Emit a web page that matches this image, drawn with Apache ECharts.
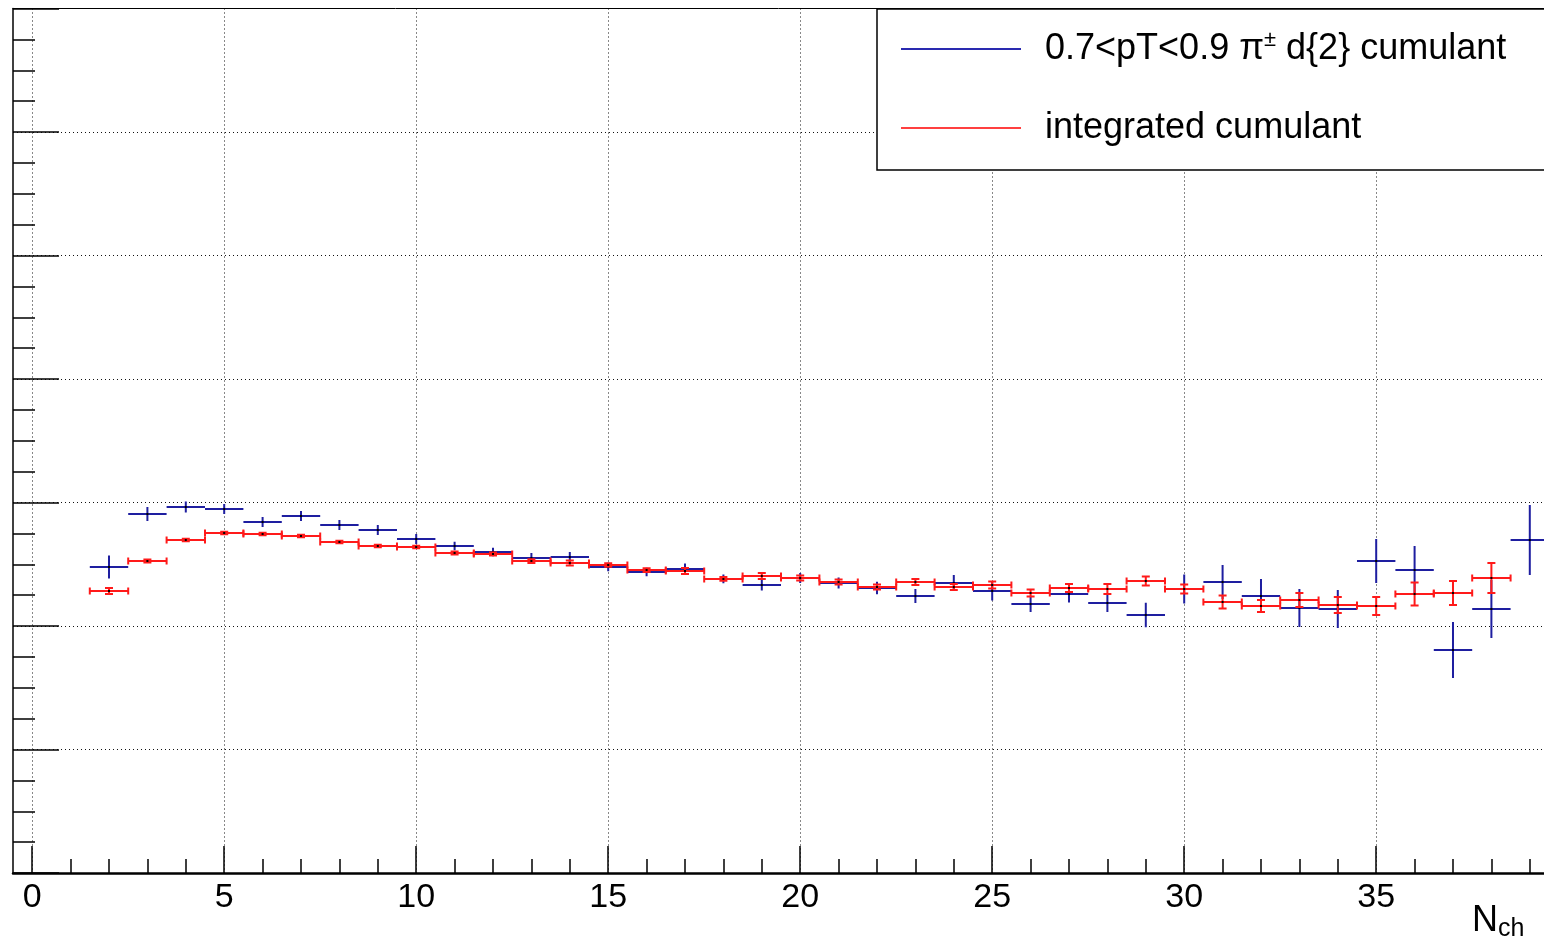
<!DOCTYPE html>
<html>
<head>
<meta charset="utf-8">
<script src="https://cdn.jsdelivr.net/npm/echarts@6/dist/echarts.min.js"></script>
<style>
html,body{margin:0;padding:0;background:#fff;}
#chart{width:1544px;height:942px;}
</style>
</head>
<body>
<div id="chart"></div>
<script>
// Bin centres (N_ch)
const blueX = [2,3,4,5,6,7,8,9,10,11,12,13,14,15,16,17,18,19,20,21,22,23,24,25,26,27,28,29,30,31,32,33,34,35,36,37,38,39];
const blueY = [2.478,2.907,2.964,2.947,2.842,2.891,2.818,2.777,2.704,2.648,2.599,2.551,2.559,2.478,2.437,2.462,2.381,2.332,2.389,2.348,2.308,2.243,2.348,2.283,2.178,2.259,2.186,2.089,2.300,2.356,2.243,2.146,2.138,2.526,2.453,1.806,2.138,2.696];
const blueErr = [0.093,0.057,0.045,0.040,0.040,0.040,0.040,0.040,0.040,0.035,0.035,0.040,0.040,0.035,0.035,0.045,0.035,0.045,0.040,0.045,0.050,0.057,0.065,0.077,0.065,0.069,0.073,0.100,0.117,0.138,0.138,0.154,0.154,0.178,0.194,0.227,0.235,0.283];

const redX = [2,3,4,5,6,7,8,9,10,11,12,13,14,15,16,17,18,19,20,21,22,23,24,25,26,27,28,29,30,31,32,33,34,35,36,37,38];
const redY = [2.283,2.526,2.696,2.753,2.745,2.729,2.680,2.648,2.640,2.591,2.583,2.526,2.510,2.494,2.453,2.445,2.381,2.405,2.389,2.356,2.316,2.356,2.316,2.332,2.267,2.308,2.300,2.364,2.300,2.194,2.162,2.211,2.170,2.162,2.259,2.267,2.389];
const redErr = [0.024,0.012,0.010,0.010,0.010,0.010,0.010,0.010,0.010,0.012,0.012,0.015,0.020,0.015,0.015,0.024,0.015,0.024,0.020,0.020,0.020,0.024,0.024,0.028,0.028,0.032,0.040,0.036,0.036,0.053,0.049,0.057,0.065,0.073,0.093,0.097,0.121];

const xMajorTicks = [0,5,10,15,20,25,30,35];
const xMinorTicks = [0,1,2,3,4,5,6,7,8,9,10,11,12,13,14,15,16,17,18,19,20,21,22,23,24,25,26,27,28,29,30,31,32,33,34,35,36,37,38,39];

const blueName = '0.7<pT<0.9 π± d{2} cumulant';
const redName = 'integrated cumulant';
const BLUE = '#1e1ea0';
const RED = '#ff1a1a';
const FONT = 'Liberation Sans';
const X_MIN = -0.5, X_MAX = 39.37; // visible window (frame cropped at right)

function zip(xs, ys, es){ return xs.map((x,i)=>[x, ys[i], es[i]]); }

function makeRender(color, caps){
  return function(params, api){
    const x = api.value(0), y = api.value(1), e = api.value(2);
    const l = api.coord([x-0.5, y]);
    const r = api.coord([x+0.5, y]);
    const t = api.coord([x, y+e]);
    const b = api.coord([x, y-e]);
    const st = {stroke: color, lineWidth: 2};
    const ch = [
      {type:'line', shape:{x1:l[0], y1:l[1], x2:r[0], y2:r[1]}, style:st},
      {type:'line', shape:{x1:t[0], y1:t[1], x2:b[0], y2:b[1]}, style:st}
    ];
    if (caps){
      const cw = 4;
      ch.push({type:'line', shape:{x1:t[0]-cw, y1:t[1], x2:t[0]+cw, y2:t[1]}, style:st});
      ch.push({type:'line', shape:{x1:b[0]-cw, y1:b[1], x2:b[0]+cw, y2:b[1]}, style:st});
      ch.push({type:'line', shape:{x1:l[0], y1:l[1]-3.5, x2:l[0], y2:l[1]+3.5}, style:st});
      ch.push({type:'line', shape:{x1:r[0], y1:r[1]-3.5, x2:r[0], y2:r[1]+3.5}, style:st});
    }
    ch.push({type:'rect', shape:{x:t[0]-1, y:l[1]-1, width:2, height:2}, style:{fill:'#000'}});
    return {type:'group', children: ch};
  };
}

const chart = echarts.init(document.getElementById('chart'), null, {renderer:'canvas'});
const gridBox = {left:13, right:0, top:8.5, bottom:69, containLabel:false};
const dotted = {color:'#111', width:1, type:[1,3]};

chart.setOption({
  animation:false,
  backgroundColor:'#fff',
  textStyle:{fontFamily:FONT},
  grid:[Object.assign({}, gridBox), Object.assign({}, gridBox)],
  xAxis:[
    {
      type:'value', gridIndex:0, min:X_MIN, max:X_MAX, position:'bottom',
      axisLine:{show:true, onZero:false, lineStyle:{color:'#000', width:2.5}},
      axisTick:{show:true, inside:true, length:27, customValues:xMajorTicks, lineStyle:{color:'#000', width:1.5}},
      axisLabel:{show:true, customValues:xMajorTicks, fontSize:34, color:'#000', fontFamily:FONT, margin:8},
      splitLine:{show:true, lineStyle:dotted},
      name:'{n|N}{s|ch}', nameLocation:'end', nameGap:-72,
      nameTextStyle:{align:'left', verticalAlign:'top', padding:[28,0,0,0],
        rich:{n:{fontSize:36, fontFamily:FONT, color:'#000'}, s:{fontSize:25, fontFamily:FONT, color:'#000', padding:[16,0,0,0]}}}
    },
    {
      type:'value', gridIndex:1, min:X_MIN, max:X_MAX, position:'bottom',
      axisLine:{show:false},
      axisTick:{show:true, inside:true, length:14, customValues:xMinorTicks, lineStyle:{color:'#000', width:1.5}},
      axisLabel:{show:false},
      splitLine:{show:false}
    },
    {
      type:'value', gridIndex:0, min:X_MIN, max:X_MAX, position:'top',
      axisLine:{show:true, onZero:false, lineStyle:{color:'#000', width:1}},
      axisTick:{show:false}, axisLabel:{show:false}, splitLine:{show:false}
    }
  ],
  yAxis:[
    {
      type:'value', gridIndex:0, min:0, max:7, interval:1, position:'left',
      axisLine:{show:true, onZero:false, lineStyle:{color:'#000', width:1.5}},
      axisTick:{show:true, inside:true, length:46, lineStyle:{color:'#000', width:1.5}},
      minorTick:{show:true, splitNumber:4, length:22, lineStyle:{color:'#000', width:1.5}},
      axisLabel:{show:false},
      splitLine:{show:true, lineStyle:dotted}
    },
    {type:'value', gridIndex:1, min:0, max:7, show:false}
  ],
  legend:{
    show:true, orient:'vertical', left:877, top:9,
    padding:[20,70,22,24], itemGap:39, itemWidth:120, itemHeight:2,
    borderColor:'#000', borderWidth:1.5, backgroundColor:'#fff',
    selectedMode:false,
    textStyle:{fontSize:36, fontFamily:FONT, color:'#000', lineHeight:40, padding:[0,0,0,19]},
    data:[
      {name:blueName, icon:'rect', itemStyle:{color:'#2a2ab0'}},
      {name:redName, icon:'rect', itemStyle:{color:'#ff4040'}}
    ],
    formatter:function(n){
      if (n === blueName) return '0.7<pT<0.9 π{sup|±} d{2} cumulant';
      return n;
    }
  },
  series:[
    {
      name:blueName, type:'custom', xAxisIndex:0, yAxisIndex:0,
      data:zip(blueX, blueY, blueErr), encode:{x:0, y:1},
      itemStyle:{color:BLUE}, renderItem:makeRender(BLUE, false), clip:true, z:3
    },
    {
      name:redName, type:'custom', xAxisIndex:0, yAxisIndex:0,
      data:zip(redX, redY, redErr), encode:{x:0, y:1},
      itemStyle:{color:RED}, renderItem:makeRender(RED, true), clip:true, z:4
    }
  ]
});
// rich style for the superscript in the legend
chart.setOption({legend:{textStyle:{rich:{sup:{fontSize:22, fontFamily:FONT, color:'#000', verticalAlign:'top', lineHeight:22, padding:[0,0,16,0]}}}}});
</script>
</body>
</html>
